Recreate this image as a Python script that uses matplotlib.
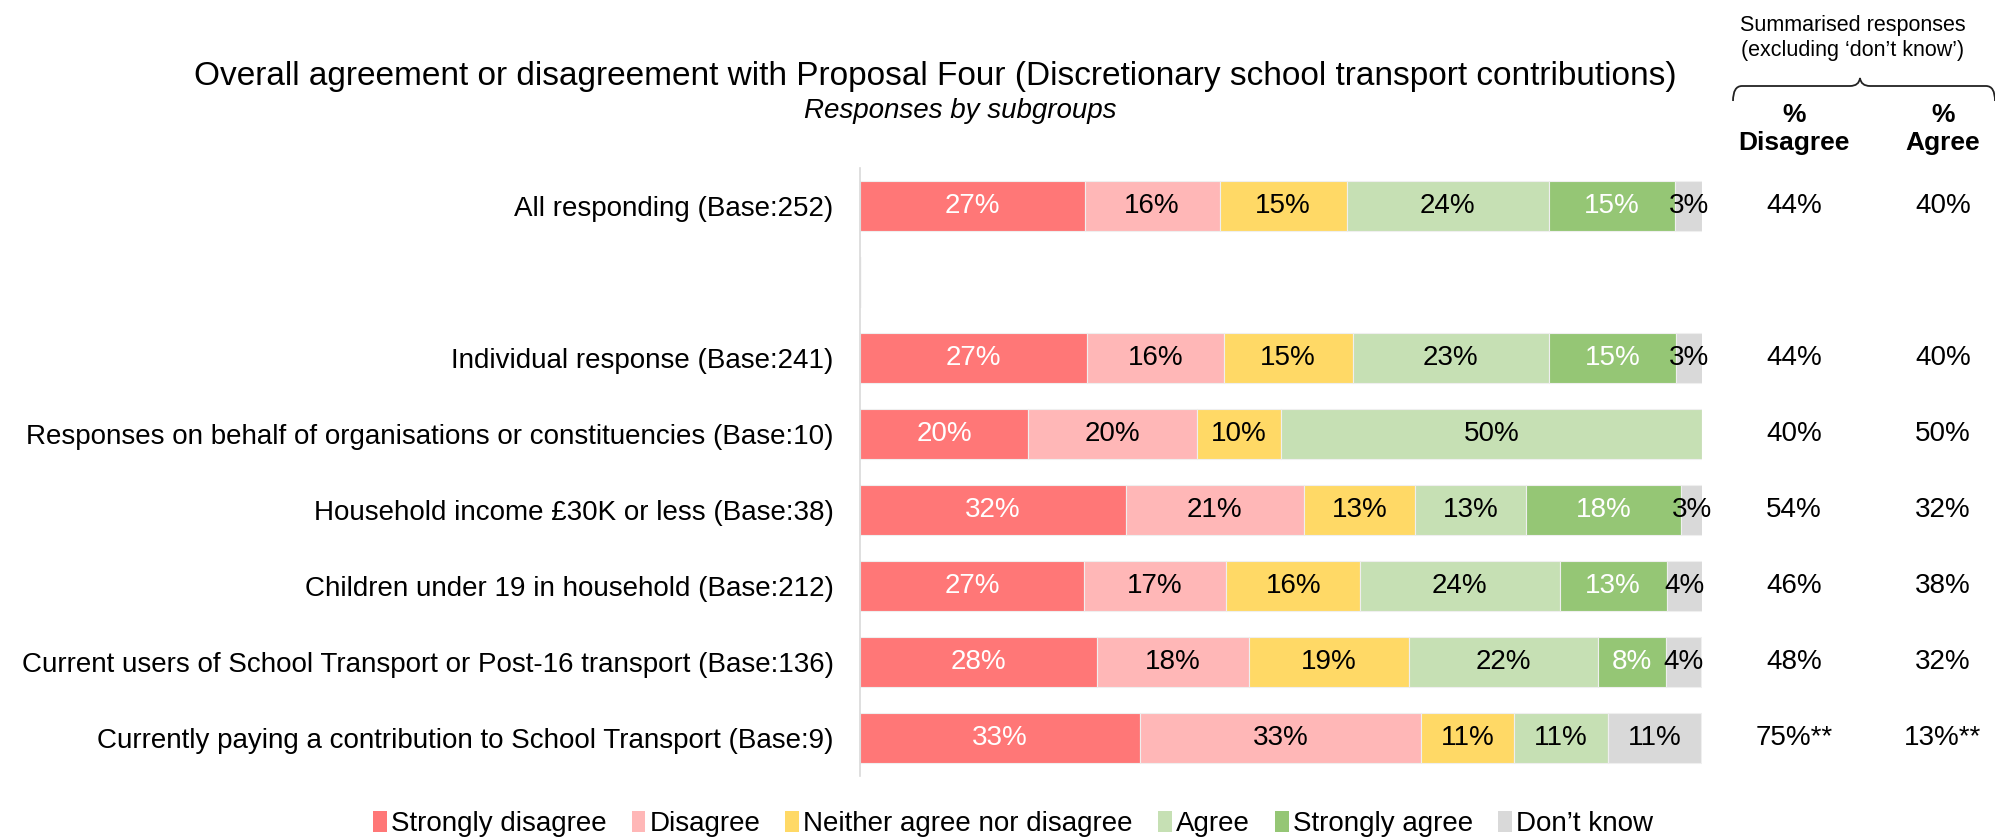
import matplotlib
matplotlib.use("Agg")
import matplotlib.pyplot as plt
from matplotlib.patches import Patch
from matplotlib.path import Path
from matplotlib.patches import PathPatch
import matplotlib.transforms as mtransforms

plt.rcParams['font.family'] = ['Liberation Sans', 'DejaVu Sans']

categories = [
    "All responding (Base:252)",
    "",
    "Individual response (Base:241)",
    "Responses on behalf of organisations or constituencies (Base:10)",
    "Household income £30K or less (Base:38)",
    "Children under 19 in household (Base:212)",
    "Current users of School Transport or Post-16 transport (Base:136)",
    "Currently paying a contribution to School Transport (Base:9)",
]
series_names = ["Strongly disagree", "Disagree", "Neither agree nor disagree",
                "Agree", "Strongly agree", "Don\u2019t know"]
strongly_disagree = [26.7, 0, 27.0, 20.0, 31.6, 26.6, 28.1, 33.3]
disagree          = [16.0, 0, 16.2, 20.0, 21.1, 16.9, 18.1, 33.3]
neither           = [15.1, 0, 15.3, 10.0, 13.2, 15.9, 19.0, 11.1]
agree             = [24.0, 0, 23.3, 50.0, 13.2, 23.7, 22.5, 11.1]
strongly_agree    = [15.0, 0, 15.1, 0.0, 18.4, 12.7, 8.0, 0.0]
dont_know         = [3.2, 0, 3.2, 0.0, 2.6, 4.2, 4.2, 11.1]
summary_disagree = ["44%", "", "44%", "40%", "54%", "46%", "48%", "75%**"]
summary_agree    = ["40%", "", "40%", "50%", "32%", "38%", "32%", "13%**"]

colors = ['#FF7777', '#FFB7B7', '#FFD966', '#C6E0B4', '#95C675', '#D9D9D9']
text_colors = ['white', 'black', 'black', 'black', 'white', 'black']

FS = 20
W, H = 1995, 839
fig = plt.figure(figsize=(W / 100, H / 100), dpi=100)
ax = fig.add_axes([860 / W, 1 - 776 / H, (1702 - 860) / W, (776 - 168) / H])

series = [strongly_disagree, disagree, neither, agree, strongly_agree, dont_know]
ypos = list(range(len(categories)))
left = [0.0] * len(categories)
for s, vals in enumerate(series):
    ax.barh(ypos, vals, left=left, height=0.66, color=colors[s],
            edgecolor='#EFEFEF', linewidth=0.8)
    for i, v in enumerate(vals):
        if v > 0:
            ax.text(left[i] + v / 2, i, f"{round(v)}%", ha='center', va='center',
                    fontsize=FS, color=text_colors[s])
    left = [l + v for l, v in zip(left, vals)]

ax.set_xlim(0, 100)
ax.set_ylim(len(categories) - 0.5, -0.5)
ax.set_yticks(ypos)
ax.set_yticklabels(categories, fontsize=FS)
ax.tick_params(axis='y', length=0, pad=19)
ax.set_xticks([])
for sp in ['top', 'right', 'bottom']:
    ax.spines[sp].set_visible(False)
ax.spines['left'].set_color('#D9D9D9')
ax.spines['left'].set_linewidth(1.2)

# summary columns
tr = mtransforms.blended_transform_factory(fig.transFigure, ax.transData)
for i in ypos:
    ax.text(1794 / W, i, summary_disagree[i], transform=tr, ha='center', va='center', fontsize=FS)
    ax.text(1943 / W, i, summary_agree[i], transform=tr, ha='center', va='center', fontsize=FS)

fig.text(1794 / W, 1 - 129 / H, "%\nDisagree", ha='center', va='center',
         fontsize=19, fontweight='bold', linespacing=1.2)
fig.text(1943 / W, 1 - 129 / H, "%\nAgree", ha='center', va='center',
         fontsize=19, fontweight='bold', linespacing=1.2)
fig.text(1853 / W, 1 - 38 / H, "Summarised responses\n(excluding \u2018don\u2019t know\u2019)",
         ha='center', va='center', fontsize=15.5, linespacing=1.25)

# brace
def fp(x, y):
    return (x / W, 1 - y / H)
verts = [fp(1733, 101), fp(1733, 86), fp(1742, 86),
         fp(1850, 86),
         fp(1859, 86), fp(1860, 78),
         fp(1861, 86), fp(1870, 86),
         fp(1986, 86),
         fp(1995, 86), fp(1995, 101)]
codes = [Path.MOVETO, Path.CURVE3, Path.CURVE3,
         Path.LINETO,
         Path.CURVE3, Path.CURVE3,
         Path.CURVE3, Path.CURVE3,
         Path.LINETO,
         Path.CURVE3, Path.CURVE3]
fig.add_artist(PathPatch(Path(verts, codes), transform=fig.transFigure,
                         facecolor='none', edgecolor='#222222', linewidth=1.3))

# titles
fig.text(935 / W, 1 - 76 / H,
         "Overall agreement or disagreement with Proposal Four (Discretionary school transport contributions)",
         ha='center', va='center', fontsize=24)
fig.text(960 / W, 1 - 111 / H, "Responses by subgroups", ha='center', va='center',
         fontsize=20, style='italic')

handles = [Patch(facecolor=c, edgecolor='none') for c in colors]
fig.legend(handles, series_names, loc='center', bbox_to_anchor=(1013 / W, 1 - 824 / H),
           ncol=6, frameon=False, fontsize=FS, handlelength=0.5, handleheight=0.8,
           handletextpad=0.15, columnspacing=0.9)

fig.savefig("out.png", dpi=100)
